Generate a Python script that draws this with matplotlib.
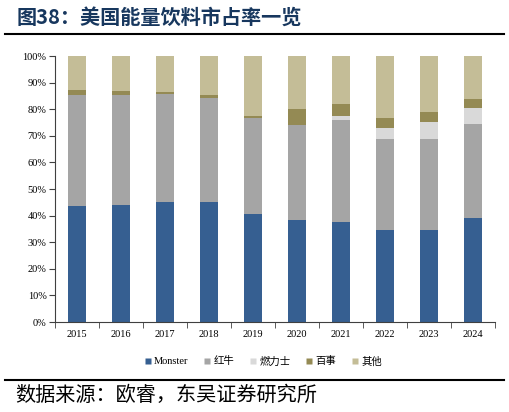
import matplotlib
matplotlib.use('Agg')
from matplotlib import pyplot as plt
from matplotlib.lines import Line2D
from matplotlib.ticker import PercentFormatter
import numpy as np

plt.rcParams['font.family'] = ['Liberation Serif', 'Noto Sans CJK SC']

years = ['2015', '2016', '2017', '2018', '2019', '2020', '2021', '2022', '2023', '2024']
# market share in %
monster = [43.5, 43.9, 45.0, 45.2, 40.6, 38.2, 37.5, 34.5, 34.7, 39.2]
redbull = [42.0, 41.6, 40.8, 39.1, 36.2, 35.7, 38.3, 34.2, 34.2, 35.2]
celsius = [0.0, 0.0, 0.0, 0.0, 0.0, 0.0, 1.6, 4.2, 6.3, 6.2]
pepsi = [1.6, 1.3, 0.8, 0.9, 0.6, 6.1, 4.4, 3.8, 3.6, 3.1]
series_names = ['Monster', '红牛', '燃力士', '百事', '其他']
colors = ['#365F91', '#A5A5A5', '#D9D9D9', '#948A54', '#C4BD97']

others = [100 - a - b - c - d for a, b, c, d in zip(monster, redbull, celsius, pepsi)]
all_series = [monster, redbull, celsius, pepsi, others]

fig = plt.figure(figsize=(5.09, 4.12), dpi=100)
ax = fig.add_axes([0.108, 0.2184, 0.8645, 0.6456])

x = np.arange(len(years))
bottom = np.zeros(len(years))
for vals, col in zip(all_series, colors):
    ax.bar(x, vals, width=0.43, bottom=bottom, color=col, edgecolor='none')
    bottom += np.array(vals)

ax.set_xlim(-0.5, len(years) - 0.5)
ax.set_ylim(0, 100)
ax.set_yticks(np.arange(0, 101, 10))
ax.yaxis.set_major_formatter(PercentFormatter(decimals=0))
ax.set_xticks(x)
ax.set_xticklabels(years)
ax.set_xticks(np.arange(-0.5, len(years), 1), minor=True)
ax.tick_params(axis='x', which='major', length=0, pad=6, labelsize=7.5)
ax.tick_params(axis='x', which='minor', length=4, direction='out', color='#404040')
ax.tick_params(axis='y', length=4, direction='out', color='#404040', labelsize=7.5, pad=2)
for s in ['top', 'right']:
    ax.spines[s].set_visible(False)
for s in ['left', 'bottom']:
    ax.spines[s].set_color('#404040')
    ax.spines[s].set_linewidth(0.8)

handles = [Line2D([], [], marker='s', linestyle='none', markersize=5,
                  markerfacecolor=c, markeredgecolor='none') for c in colors]
fig.legend(handles, series_names, loc='center', bbox_to_anchor=(0.515, 0.123),
           ncol=5, frameon=False, fontsize=7.5, handletextpad=0.1,
           columnspacing=1.3, handlelength=1.0)

# title, rules and source
fig.text(0.033, 0.958, '图38：美国能量饮料市占率一览', fontsize=14.5, fontweight='bold',
         color='#17375E', family=['Noto Sans CJK SC'], va='center')
fig.add_artist(Line2D([0.01, 0.99], [0.917, 0.917], color='black', linewidth=1.5))
fig.add_artist(Line2D([0.01, 0.99], [0.078, 0.078], color='black', linewidth=1.5))
fig.text(0.03, 0.04, '数据来源：欧睿，东吴证券研究所', fontsize=14.5,
         family=['Noto Sans CJK SC'], va='center')

fig.savefig('out.png', dpi=100)
